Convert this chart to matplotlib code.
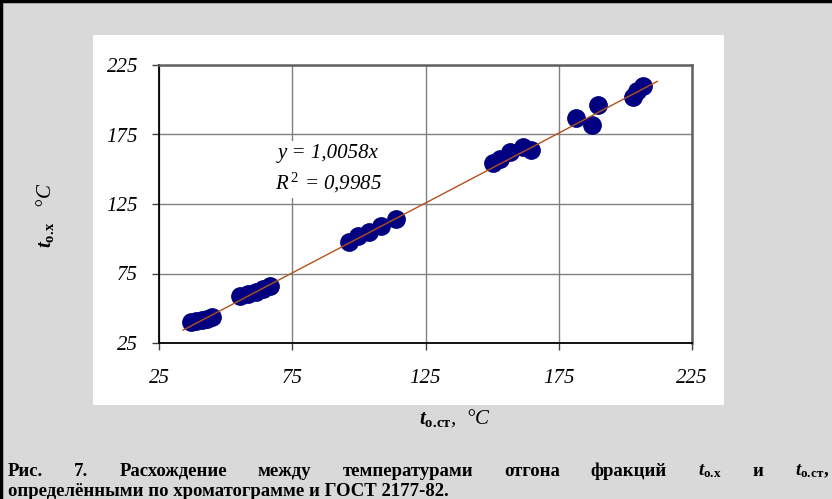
import matplotlib
matplotlib.use("Agg")
import matplotlib.pyplot as plt
from matplotlib.lines import Line2D
from matplotlib.patches import Rectangle

plt.rcParams["font.family"] = ["Liberation Serif", "DejaVu Serif"]
plt.rcParams["mathtext.fontset"] = "custom"
plt.rcParams["mathtext.rm"] = "Liberation Serif"
plt.rcParams["mathtext.it"] = "Liberation Serif:italic"
plt.rcParams["mathtext.bf"] = "Liberation Serif:bold"
plt.rcParams["mathtext.bfit"] = "Liberation Serif:bold:italic"

# Boiling temperatures of fractions: standard method (x) vs chromatogram (y), °C
t_std = [37.0, 38.9, 41.1, 43.0, 44.9,
         55.4, 58.4, 61.4, 64.0, 66.7,
         96.3, 99.7, 103.8, 108.3, 113.9,
         150.3, 153.0, 156.7, 161.6, 164.6,
         181.5, 187.5, 189.7, 202.9, 204.4, 206.6]
t_chrom = [40.1, 40.8, 41.5, 42.3, 43.7,
           58.8, 60.3, 61.7, 63.9, 66.0,
           97.7, 102.0, 104.9, 109.2, 114.2,
           154.5, 157.4, 162.4, 166.0, 163.8,
           186.9, 181.8, 196.2, 202.0, 206.3, 209.9]

slope = 1.0058
r_squared = 0.9985
trend_x = [34, 212]

ticks = [25, 75, 125, 175, 225]

W, H = 832, 499
fig = plt.figure(figsize=(W / 100, H / 100), dpi=100)
fig.patch.set_facecolor("#d9d9d9")

# white chart panel
fig.patches.append(Rectangle((93 / W, 1 - 405 / H), (724 - 93) / W, (405 - 35) / H,
                             transform=fig.transFigure, facecolor="white",
                             edgecolor="none", zorder=-5))
# outer frame (left and top)
fig.lines.append(Line2D([1 / W, 1 / W], [0, 1], transform=fig.transFigure,
                        color="black", lw=2.5))
fig.lines.append(Line2D([0, 1], [1 - 1 / H, 1 - 1 / H], transform=fig.transFigure,
                        color="black", lw=2.5))

ax = fig.add_axes([159 / W, 1 - 343 / H, (692 - 159) / W, (343 - 65) / H])
ax.set_zorder(1)
ax.set_facecolor("white")
ax.set_xlim(25, 225)
ax.set_ylim(25, 225)
ax.set_xticks(ticks)
ax.set_yticks(ticks)
ax.set_xticklabels([str(t) for t in ticks], fontsize=15, style="italic")
ax.set_yticklabels([str(t) for t in ticks], fontsize=15, style="italic")
ax.tick_params(axis="both", direction="out", length=5, width=1, color="#404040")
ax.tick_params(axis="x", pad=14)
ax.tick_params(axis="y", pad=10)
ax.grid(True, color="#808080", lw=1)
ax.set_axisbelow(True)
for s in ("left", "bottom"):
    ax.spines[s].set_color("black")
    ax.spines[s].set_linewidth(1.3)
for s in ("top", "right"):
    ax.spines[s].set_color("#606060")
    ax.spines[s].set_linewidth(1.8)

ax.plot(t_std, t_chrom, "o", color="#000080", ms=12.5, mec="#000080", zorder=3)
ax.plot(trend_x, [slope * v for v in trend_x], color="#b5501e", lw=1, zorder=4)

eq = ("y = " + f"{slope:.4f}".replace(".", ",") + "x\n"
      + r"$R^{\,2}$" + " = " + f"{r_squared:.4f}".replace(".", ","))
ax.text(88.5, 150, eq, fontsize=15, style="italic", ha="center", va="center",
        linespacing=1.45, zorder=5,
        bbox=dict(facecolor="white", edgecolor="none", pad=2))

sub_x = r"$\mathbfit{t}_{\mathbf{о.\!х}}$"
sub_st = r"$\mathbfit{t}_{\mathbf{о.\!ст}}$"

fig.text(455 / W, 1 - 418 / H, sub_st + ",  °C",
         fontsize=15, style="italic", ha="center", va="center")
fig.text(45 / W, 1 - 215 / H, sub_x + "   °C",
         fontsize=15, style="italic", ha="center", va="center", rotation=90)

# caption, first line justified across the width
line1 = ["Рис.", "7.", "Расхождение", "между", "температурами", "отгона", "фракций",
         sub_x, "и", sub_st + ","]
fs_cap = 13.5
fig.canvas.draw()
renderer = fig.canvas.get_renderer()
texts = [fig.text(0, 1 - 471 / H, w, fontsize=fs_cap, weight="bold",
                  ha="left", va="center") for w in line1]
widths = [t.get_window_extent(renderer).width for t in texts]
x0, x1 = 8, 829
gap = (x1 - x0 - sum(widths)) / (len(line1) - 1)
x = x0
for t, w in zip(texts, widths):
    t.set_x(x / W)
    x += w + gap
fig.text(x0 / W, 1 - 491 / H, "определёнными по хроматограмме и ГОСТ 2177-82.",
         fontsize=fs_cap, weight="bold", ha="left", va="center")

fig.savefig("out.png", dpi=100, facecolor=fig.get_facecolor())
